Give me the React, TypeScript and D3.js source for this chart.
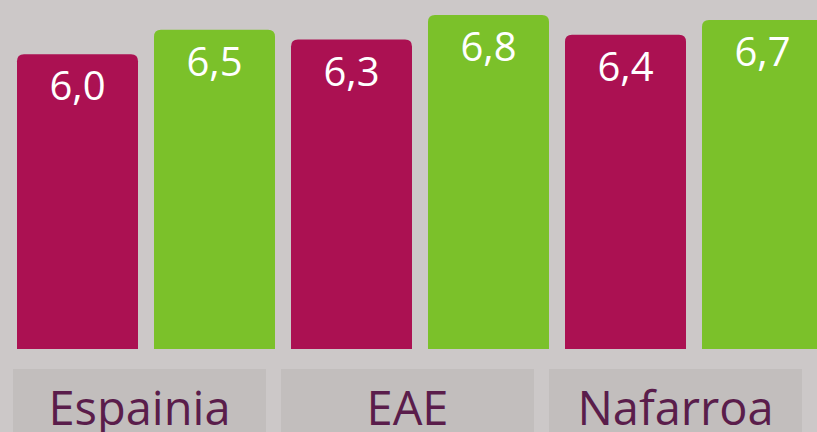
import React from "react";
import * as d3 from "d3";

const categories = ["Espainia", "EAE", "Nafarroa"];
const seriesA = [6.0, 6.3, 6.4];
const seriesB = [6.5, 6.8, 6.7];

const W = 817;
const H = 432;
const BG = "#ccc8c8";
const BOX = "#c2bebd";
const COLOR_A = "#ab1152";
const COLOR_B = "#7bc12a";
const TEXT = "#5a1d4b";
const FONT = "'Open Sans', 'Noto Sans', sans-serif";

function topRounded(x: number, y: number, w: number, h: number, r: number) {
  const rr = Math.min(r, w / 2, h);
  return `M${x},${y + h}V${y + rr}Q${x},${y} ${x + rr},${y}H${x + w - rr}Q${x + w},${y} ${x + w},${y + rr}V${y + h}Z`;
}

export default function App() {
  const bars = categories.flatMap((c, i) => [
    { id: `${c}-a`, cat: c, value: seriesA[i], color: COLOR_A },
    { id: `${c}-b`, cat: c, value: seriesB[i], color: COLOR_B },
  ]);

  const x = d3
    .scaleBand<string>()
    .domain(bars.map((b) => b.id))
    .range([17, 823])
    .paddingInner(16 / 137);

  const xBox = d3
    .scaleBand<string>()
    .domain(categories)
    .range([13, 802])
    .paddingInner(15 / 268);

  const y = d3.scaleLinear().domain([0, 6.8]).range([349, 15]);
  const fmt = (v: number) => d3.format(".1f")(v).replace(".", ",");

  return (
    <svg
      width={W}
      height={H}
      style={{ position: "absolute", left: 0, top: 0, display: "block" }}
    >
      <rect x={0} y={0} width={W} height={H} fill={BG} />
      {bars.map((b) => {
        const bx = x(b.id)!;
        const bw = x.bandwidth();
        const top = y(b.value);
        return (
          <g key={b.id}>
            <path d={topRounded(bx, top, bw, y(0) - top, 7)} fill={b.color} />
            <text
              x={bx + bw / 2}
              y={top + 46}
              textAnchor="middle"
              fill="#ffffff"
              fontFamily={FONT}
              fontSize={40}
            >
              {fmt(b.value)}
            </text>
          </g>
        );
      })}
      {categories.map((c) => {
        const bx = xBox(c)!;
        const bw = xBox.bandwidth();
        return (
          <g key={c}>
            <rect x={bx} y={369} width={bw} height={H - 369 + 10} fill={BOX} />
            <text
              x={bx + bw / 2}
              y={425}
              textAnchor="middle"
              fill={TEXT}
              fontFamily={FONT}
              fontSize={47}
            >
              {c}
            </text>
          </g>
        );
      })}
    </svg>
  );
}
